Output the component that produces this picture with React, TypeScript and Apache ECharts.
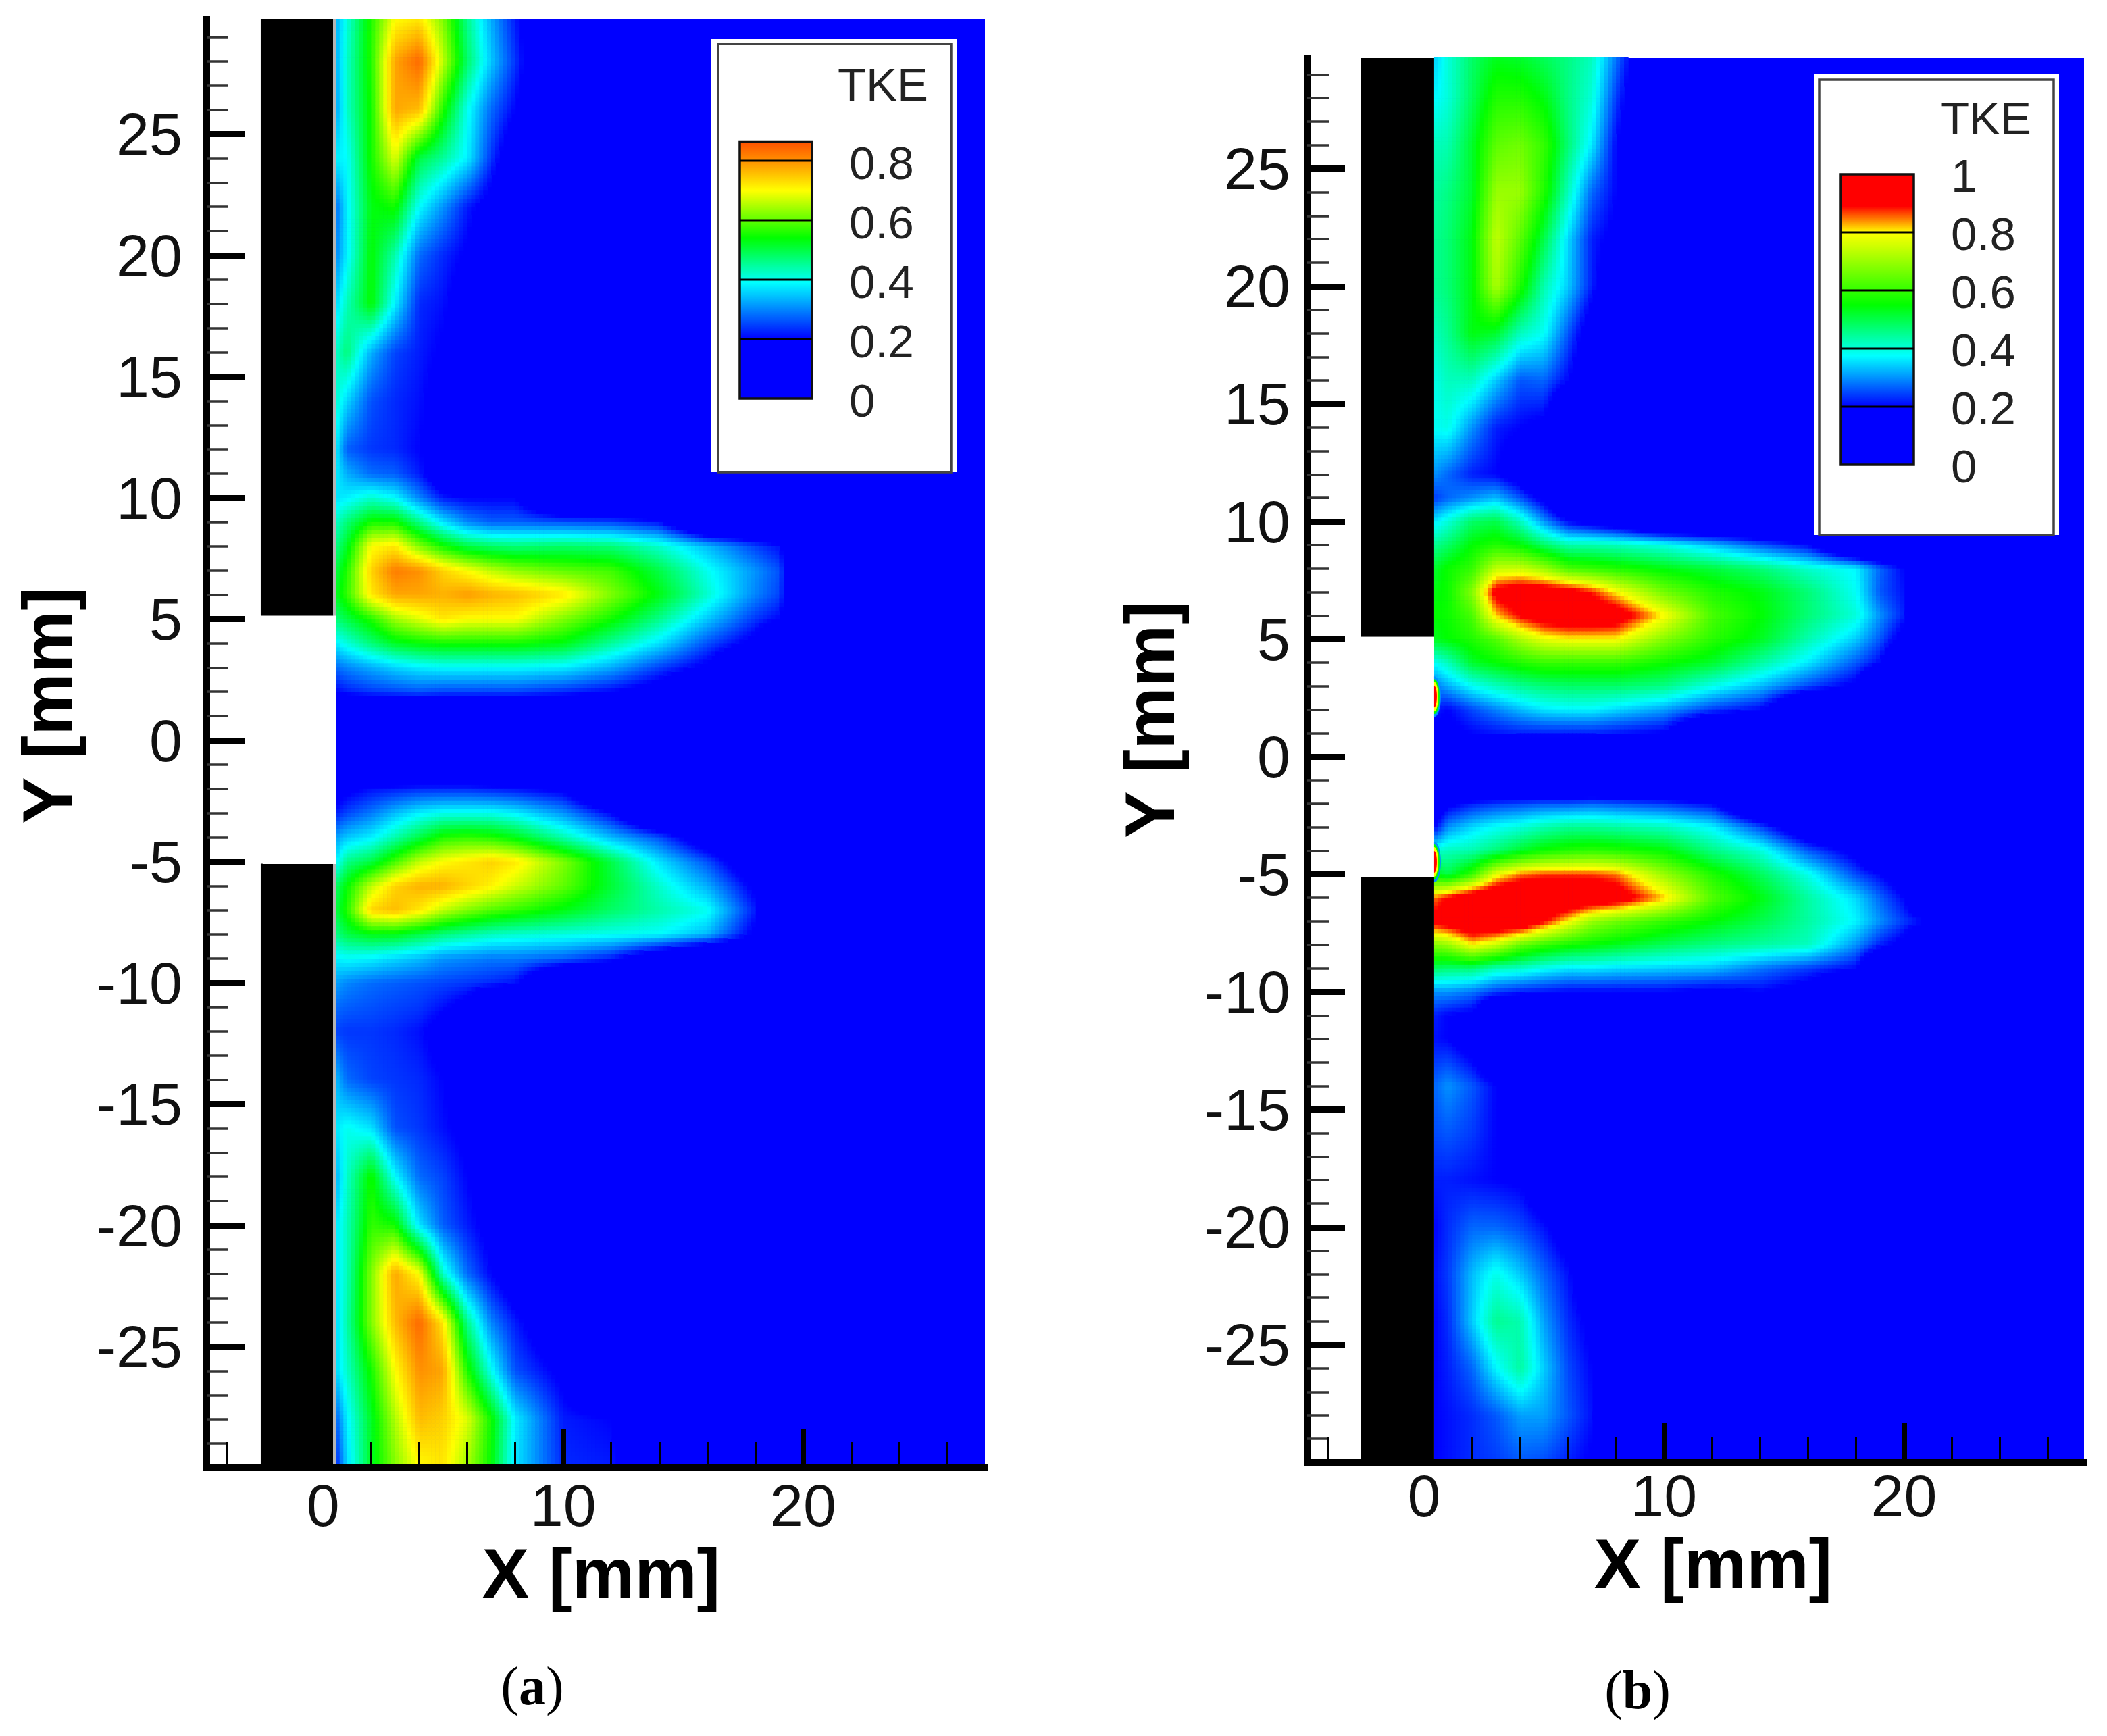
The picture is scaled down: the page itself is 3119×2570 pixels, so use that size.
import React, { useEffect, useRef } from "react";
import * as echarts from "echarts";

const FONT = "Liberation Sans";
const SERIF = "Liberation Serif";

const XS_A = [0.53, 1, 2, 3, 4, 5, 6, 7, 8, 10, 12, 14, 16, 18, 19, 20, 21];
const XS_B = [0.42, 1, 2, 3, 4, 5, 6, 7, 8, 10, 12, 14, 16, 18, 19, 20, 21];
const YS = [29.75, 28, 26, 24, 22, 20, 18, 16, 14, 12, 11, 10, 9, 8, 7, 6, 5, 4, 3, 2, 1, 0, -1, -2, -3, -4, -5, -6, -7, -8, -9, -10, -11, -12, -14, -16, -18, -20, -22, -24, -26, -28, -30];

// TKE, one row per YS entry; a short row means 0 beyond its end.
const TKE_A = [
  [.33, .41, .56, .7, .72, .62, .46, .33, .22],
  [.33, .42, .56, .78, .84, .66, .48, .35, .24],
  [.32, .42, .55, .78, .76, .56, .40, .28, .2],
  [.38, .39, .55, .68, .5, .45, .38, .24, .12],
  [.28, .38, .53, .55, .39, .31, .22, .16],
  [.30, .38, .54, .44, .28, .23, .19, .12],
  [.36, .43, .54, .38, .23, .21, .15],
  [.42, .47, .33, .25, .22, .19, .14],
  [.42, .36, .26, .23, .21, .16],
  [.38, .27, .24, .23, .2, .16],
  [.38, .33, .28, .27, .22, .12],
  [.37, .38, .42, .39, .3, .22, .2, .2, .2],
  [.42, .47, .55, .55, .46, .37, .3, .27, .27, .26, .25, .21],
  [.46, .52, .70, .72, .62, .55, .5, .48, .47, .48, .47, .42, .34, .25, .21],
  [.5, .56, .74, .82, .8, .74, .7, .66, .63, .6, .58, .5, .4, .31, .26],
  [.52, .57, .72, .78, .78, .77, .79, .77, .76, .72, .62, .53, .42, .3, .25],
  [.47, .5, .56, .64, .68, .72, .7, .7, .7, .62, .55, .46, .35, .24, .2],
  [.38, .41, .47, .52, .54, .55, .55, .55, .55, .53, .45, .37, .26, .17],
  [.28, .3, .33, .36, .38, .39, .39, .39, .39, .38, .33, .25, .18],
  [.2, .22, .24, .25, .26, .25, .25, .25, .25, .23, .2, .15],
  [],
  [],
  [],
  [.15, .18, .21, .22, .23, .23, .23, .22, .21, .18],
  [.22, .25, .29, .34, .38, .4, .4, .4, .38, .31, .2],
  [.32, .35, .38, .44, .5, .56, .57, .56, .53, .44, .34, .26, .12],
  [.38, .46, .5, .58, .66, .7, .72, .74, .72, .62, .5, .37, .26, .1],
  [.48, .54, .66, .74, .77, .77, .74, .71, .67, .6, .51, .42, .33, .18],
  [.5, .56, .74, .76, .72, .66, .62, .59, .57, .53, .48, .44, .4, .22],
  [.46, .5, .53, .53, .5, .47, .45, .43, .42, .41, .4, .39, .34, .18],
  [.38, .39, .38, .36, .34, .31, .3, .29, .29, .27, .22, .1],
  [.32, .3, .28, .27, .26, .25, .24, .23, .21],
  [.28, .27, .26, .25, .24, .21, .17],
  [.25, .24, .24, .23, .21, .16],
  [.34, .28, .25, .24, .23, .2, .14],
  [.37, .4, .37, .26, .24, .21, .18],
  [.33, .42, .55, .39, .28, .25, .2, .15],
  [.37, .43, .57, .55, .37, .27, .22, .17],
  [.37, .43, .62, .78, .7, .42, .28, .2, .13],
  [.36, .44, .62, .76, .84, .72, .46, .3, .22, .1],
  [.36, .42, .55, .7, .8, .78, .56, .4, .26, .18],
  [.27, .38, .52, .65, .76, .74, .68, .55, .38, .22, .2],
  [.22, .36, .52, .62, .7, .72, .64, .54, .37, .23, .22],
];

const TKE_B = [
  [.34, .4, .48, .53, .52, .49, .46, .42, .28],
  [.37, .4, .49, .58, .58, .54, .46, .4, .24],
  [.42, .43, .52, .64, .66, .6, .47, .36, .2],
  [.44, .46, .52, .7, .7, .58, .42, .27, .2],
  [.45, .47, .54, .74, .64, .5, .35, .22, .18, .1],
  [.45, .47, .54, .72, .58, .43, .34, .22, .12],
  [.42, .45, .54, .52, .42, .38, .26, .14],
  [.39, .42, .42, .34, .26, .27, .2, .1],
  [.38, .39, .3, .22, .2, .18],
  [.3, .27, .22, .2, .14],
  [.24, .27, .3, .33, .26, .17],
  [.36, .4, .48, .5, .42, .3, .2, .16, .12],
  [.45, .48, .55, .58, .55, .48, .43, .43, .42, .39, .33, .26, .2],
  [.52, .56, .6, .74, .75, .7, .62, .6, .58, .54, .51, .47, .41, .37, .27, .2],
  [.54, .56, .68, .92, .95, .95, .93, .88, .8, .66, .58, .54, .47, .38, .26, .21],
  [.55, .56, .62, .82, .9, .95, .97, .97, .95, .8, .62, .55, .47, .4, .3, .22],
  [.53, .55, .58, .63, .72, .78, .8, .8, .8, .68, .59, .53, .43, .34, .26, .16],
  [.38, .42, .52, .55, .58, .6, .6, .6, .6, .56, .52, .44, .36, .26, .2],
  [.28, .32, .38, .42, .45, .47, .48, .48, .48, .46, .39, .33, .25, .18],
  [.22, .2, .25, .29, .33, .36, .37, .37, .35, .31, .24, .2],
  [.18, .18, .2, .21, .22, .22, .22, .22, .21, .19],
  [],
  [],
  [.1, .18, .22, .24, .25, .26, .26, .27, .26, .24, .2],
  [.2, .3, .35, .38, .4, .43, .45, .45, .44, .42, .37, .25, .1],
  [.4, .42, .43, .47, .52, .56, .58, .59, .58, .55, .46, .4, .26, .17],
  [.54, .5, .6, .78, .85, .87, .87, .87, .85, .7, .58, .49, .39, .25, .2, .14],
  [.85, .9, .97, 1, 1, 1, 1, .98, .95, .82, .63, .54, .44, .35, .27, .2],
  [.92, .95, 1, 1, 1, .9, .8, .7, .66, .6, .55, .5, .44, .37, .3, .24, .2],
  [.68, .7, .8, .75, .65, .6, .57, .55, .53, .49, .46, .44, .42, .3, .22, .17],
  [.48, .47, .47, .42, .41, .38, .36, .36, .35, .34, .33, .28, .24, .2],
  [.3, .3, .28, .24, .22, .21, .2, .2, .2, .2, .18, .2, .16],
  [.22, .2, .18],
  [.21, .2, .15],
  [.27, .3, .26, .2, .15],
  [.25, .26, .24, .2, .15],
  [.22, .22, .21, .2, .19, .12],
  [.2, .23, .27, .27, .25, .21, .15],
  [.21, .24, .33, .39, .34, .27, .21, .12],
  [.2, .23, .34, .45, .43, .31, .23, .18],
  [.2, .22, .27, .37, .44, .34, .25, .2, .1],
  [.2, .21, .23, .26, .31, .31, .26, .21, .1],
  [.2, .21, .23, .24, .26, .25, .22, .19, .12],
];

const STOPS_A: [number, string][] = [[0, "#0000ff"], [.2, "#0000ff"], [.39, "#00ffff"], [.54, "#00ff00"], [.70, "#ffff00"], [.8, "#ff9000"], [.865, "#ff5000"], [1, "#ff0000"]];
const STOPS_B: [number, string][] = [[0, "#0000ff"], [.2, "#0000ff"], [.375, "#00ffff"], [.55, "#00ff00"], [.8, "#ffff00"], [.89, "#ff0000"], [1.05, "#ff0000"]];

const Y_MAJOR = [-25, -20, -15, -10, -5, 0, 5, 10, 15, 20, 25];
const Y_MINOR = [-29, -28, -27, -26, -24, -23, -22, -21, -19, -18, -17, -16, -14, -13, -12, -11, -9, -8, -7, -6, -4, -3, -2, -1, 1, 2, 3, 4, 6, 7, 8, 9, 11, 12, 13, 14, 16, 17, 18, 19, 21, 22, 23, 24, 26, 27, 28, 29];
const X_MAJOR = [0, 10, 20];
const X_MINOR = [-4, -2, 2, 4, 6, 8, 12, 14, 16, 18, 22, 24, 26];

const LEGEND_TICKS_A = [0, .2, .4, .6, .8];
const LEGEND_TICKS_B = [0, .2, .4, .6, .8, 1];

// x0, x1, y0, y1, colour of the wall pieces
const WALLS_A = [[-2.6, .42, 5.14, 29.75, "#000"], [-2.6, .42, -30, -5.08, "#000"], [.42, .53, 5.14, 29.75, "#b4b4b4"], [.42, .53, -30, -5.08, "#b4b4b4"]];
const WALLS_B = [[-2.62, .42, 5.1, 29.7, "#000"], [-2.62, .42, -30, -5.1, "#000"]];
const SPOTS_B = [[.42, 2.56], [.42, -4.47]];

const STEP = 6;

function hex(c: string) {
  return [parseInt(c.slice(1, 3), 16), parseInt(c.slice(3, 5), 16), parseInt(c.slice(5, 7), 16)];
}
function colorOf(stops: [number, string][], v: number) {
  if (v <= stops[0][0]) return stops[0][1];
  for (let i = 1; i < stops.length; i++) {
    if (v <= stops[i][0]) {
      const t = (v - stops[i - 1][0]) / (stops[i][0] - stops[i - 1][0]);
      const a = hex(stops[i - 1][1]);
      const b = hex(stops[i][1]);
      return `rgb(${Math.round(a[0] + (b[0] - a[0]) * t)},${Math.round(a[1] + (b[1] - a[1]) * t)},${Math.round(a[2] + (b[2] - a[2]) * t)})`;
    }
  }
  return stops[stops.length - 1][1];
}

function buildCells(xs: number[], rows: number[][]) {
  const out: number[][] = [];
  const at = (j: number, i: number) => rows[j][i] ?? 0;
  for (let j = 0; j < YS.length - 1; j++) {
    for (let i = 0; i < xs.length - 1; i++) {
      const v = [at(j, i), at(j, i + 1), at(j + 1, i), at(j + 1, i + 1)];
      if (Math.max(...v) > .2) out.push([xs[i], xs[i + 1], YS[j], YS[j + 1], ...v]);
    }
  }
  return out;
}

function fieldRender(stops: [number, string][]) {
  return (_: any, api: any) => {
    const a = api.coord([api.value(0), api.value(2)]);
    const b = api.coord([api.value(1), api.value(3)]);
    const w = b[0] - a[0];
    const h = b[1] - a[1];
    const nx = Math.max(1, Math.ceil(w / STEP));
    const ny = Math.max(1, Math.ceil(h / STEP));
    const v00 = api.value(4), v10 = api.value(5), v01 = api.value(6), v11 = api.value(7);
    const children: any[] = [];
    for (let iy = 0; iy < ny; iy++) {
      const t = (iy + .5) / ny;
      for (let ix = 0; ix < nx; ix++) {
        const u = (ix + .5) / nx;
        const v = v00 * (1 - u) * (1 - t) + v10 * u * (1 - t) + v01 * (1 - u) * t + v11 * u * t;
        if (v <= .2) continue;
        children.push({
          type: "rect",
          shape: { x: a[0] + ix * w / nx, y: a[1] + iy * h / ny, width: w / nx + .7, height: h / ny + .7 },
          style: { fill: colorOf(stops, v) },
        });
      }
    }
    return { type: "group", children };
  };
}

function rectRender(_: any, api: any) {
  const a = api.coord([api.value(0), api.value(3)]);
  const b = api.coord([api.value(1), api.value(2)]);
  return { type: "rect", shape: { x: a[0], y: a[1], width: b[0] - a[0], height: b[1] - a[1] }, style: { fill: api.value(4) } };
}

function spotRender(stops: [number, string][]) {
  return (_: any, api: any) => {
    const c = api.coord([api.value(0), api.value(1)]);
    const rings = [[.3, 10, 30], [.55, 8, 26], [.8, 6, 22], [.95, 4, 16]];
    return {
      type: "group",
      children: rings.map(([v, rx, ry]) => ({ type: "ellipse", shape: { cx: c[0], cy: c[1], rx, ry }, style: { fill: colorOf(stops, v) } })),
    };
  };
}

const axisBase = { type: "value" as const, splitLine: { show: false }, z: 10 };

function panelAxes(g: number, p: any) {
  const lineStyle = { color: "#000", width: 10, cap: "square" };
  const xAxis = [
    {
      ...axisBase, gridIndex: g, min: p.xMin, max: p.xMax, position: "bottom",
      name: "X [mm]", nameLocation: "middle", nameGap: p.xNameGap,
      nameTextStyle: { fontFamily: FONT, fontWeight: "bold", fontSize: 104, color: "#000", padding: [0, 0, 0, p.xNamePad] },
      axisLine: { show: true, onZero: false, lineStyle },
      axisTick: { show: true, inside: true, length: 58, customValues: X_MAJOR, lineStyle: { color: "#000", width: 8 } },
      axisLabel: { show: true, customValues: X_MAJOR, margin: p.xMargin, fontFamily: FONT, fontSize: 88, color: "#111" },
    },
    {
      ...axisBase, gridIndex: g, min: p.xMin, max: p.xMax, position: "bottom",
      axisLine: { show: false, onZero: false },
      axisTick: { show: true, inside: true, length: 38, customValues: X_MINOR, lineStyle: { color: "#000", width: 3 } },
      axisLabel: { show: false },
    },
  ];
  const yAxis = [
    {
      ...axisBase, gridIndex: g, min: -30, max: p.yMax, position: "left",
      name: "Y [mm]", nameLocation: "middle", nameGap: p.yNameGap, nameMoveOverlap: false,
      nameTextStyle: { fontFamily: FONT, fontWeight: "bold", fontSize: 104, color: "#000", padding: [0, 0, 0, p.yNamePad] },
      axisLine: { show: true, onZero: false, lineStyle },
      axisTick: { show: true, inside: true, length: 56, customValues: Y_MAJOR, lineStyle: { color: "#000", width: 9 } },
      axisLabel: { show: true, customValues: Y_MAJOR, margin: p.yMargin, fontFamily: FONT, fontSize: 88, color: "#111" },
    },
    {
      ...axisBase, gridIndex: g, min: -30, max: p.yMax, position: "left",
      axisLine: { show: false, onZero: false },
      axisTick: { show: true, inside: true, length: 32, customValues: Y_MINOR, lineStyle: { color: "#333", width: 3.5 } },
      axisLabel: { show: false },
    },
  ];
  return { xAxis, yAxis };
}

function legend(l: any, stops: [number, string][], ticks: number[], top: number) {
  const yOf = (v: number) => l.y0 - v * l.perUnit;
  const colorStops = [{ offset: 0, color: colorOf(stops, 0) }];
  stops.forEach(([v]) => {
    if (v > 0 && v < top) colorStops.push({ offset: v / top, color: colorOf(stops, v) });
  });
  colorStops.push({ offset: 1, color: colorOf(stops, top) });
  const els: any[] = [
    { type: "rect", shape: { x: l.outer[0], y: l.outer[1], width: l.outer[2], height: l.outer[3] }, style: { fill: "#fff" }, z: 100 },
    { type: "rect", shape: { x: l.inner[0], y: l.inner[1], width: l.inner[2], height: l.inner[3] }, style: { fill: "#fff", stroke: "#444", lineWidth: 3.5 }, z: 100 },
    { type: "text", x: l.titleX, y: l.titleY, style: { text: "TKE", fontFamily: FONT, fontSize: 69, fill: "#222", textAlign: "center", textVerticalAlign: "middle" }, z: 101 },
    {
      type: "rect", shape: { x: l.barX, y: yOf(top), width: l.barW, height: l.y0 - yOf(top) },
      style: { fill: new echarts.graphic.LinearGradient(0, 1, 0, 0, colorStops), stroke: "#111", lineWidth: 3.5 }, z: 101,
    },
  ];
  ticks.forEach((v) => {
    if (v > 0 && v < top) {
      els.push({ type: "line", shape: { x1: l.barX, y1: yOf(v), x2: l.barX + l.barW, y2: yOf(v) }, style: { stroke: "#000", lineWidth: 3 }, z: 102 });
    }
    els.push({ type: "text", x: l.labelX, y: yOf(v) + l.labelDy, style: { text: String(v), fontFamily: FONT, fontSize: 69, fill: "#222", textAlign: "left", textVerticalAlign: "middle" }, z: 102 });
  });
  return els;
}

function caption(x: number, y: number, letter: string) {
  return {
    type: "text", x, y, z: 102,
    style: {
      text: `{p|(}{l|${letter}}{p|)}`, textAlign: "center", textVerticalAlign: "middle",
      rich: {
        p: { fontFamily: SERIF, fontSize: 80, fill: "#000" },
        l: { fontFamily: SERIF, fontSize: 80, fontWeight: "bold", fill: "#000" },
      },
    },
  };
}

export default function App() {
  const ref = useRef<HTMLDivElement>(null);
  useEffect(() => {
    document.body.style.margin = "0";
    document.body.style.background = "#fff";
    const chart = echarts.init(ref.current!, undefined, { renderer: "svg", width: 3119, height: 2570 });
    const pA = { xMin: -4.85, xMax: 27.57, yMax: 29.75, xNameGap: 93, xNamePad: 16, yNameGap: 184, yNamePad: 112, xMargin: 11, yMargin: 36 };
    const pB = { xMin: -4.87, xMax: 27.5, yMax: 29.7, xNameGap: 83, xNamePad: 52, yNameGap: 181, yNamePad: 120, xMargin: 5, yMargin: 25 };
    const aA = panelAxes(0, pA);
    const aB = panelAxes(1, pB);
    const series = (g: number, xs: number[], rows: number[][], stops: [number, string][], walls: any[], xMax: number, yMax: number, spots: number[][]) => {
      const axes = { xAxisIndex: g * 2, yAxisIndex: g * 2 };
      const list: any[] = [
        { ...axes, type: "custom", silent: true, z: 1, renderItem: rectRender, data: [[xs[0], xMax, -30, yMax, "#0000ff"]] },
        { ...axes, type: "custom", silent: true, z: 2, renderItem: fieldRender(stops), data: buildCells(xs, rows), encode: { x: [0, 1], y: [2, 3] } },
      ];
      if (spots.length) list.push({ ...axes, type: "custom", silent: true, z: 3, renderItem: spotRender(stops), data: spots });
      list.push({ ...axes, type: "custom", silent: true, z: 4, renderItem: rectRender, data: walls });
      list.push({ ...axes, type: "custom", silent: true, z: 4, renderItem: rectRender, data: [[xs[0] - 3.05, xs[0], -5.1, 5.1, "#ffffff"]] });
      return list;
    };
    const option: any = {
      animation: false,
      backgroundColor: "#fff",
      grid: [
        { left: 306, top: 28, width: 1152, height: 2145, containLabel: false, outerBoundsMode: "none" },
        { left: 1935, top: 86, width: 1150, height: 2079, containLabel: false, outerBoundsMode: "none" },
      ],
      xAxis: [...aA.xAxis, ...aB.xAxis],
      yAxis: [...aA.yAxis, ...aB.yAxis],
      series: [
        ...series(0, XS_A, TKE_A, STOPS_A, WALLS_A, pA.xMax, pA.yMax, []),
        ...series(1, XS_B, TKE_B, STOPS_B, WALLS_B, pB.xMax, pB.yMax, SPOTS_B),
      ],
      graphic: {
        z: 100,
        elements: [
          ...legend({ outer: [1052, 57, 365, 642], inner: [1063, 65, 345, 634], titleX: 1307, titleY: 125, barX: 1095, barW: 107, y0: 590, perUnit: 440, labelX: 1257, labelDy: 3 }, STOPS_A, LEGEND_TICKS_A, .865),
          ...legend({ outer: [2686, 109, 362, 683], inner: [2693, 118, 347, 674], titleX: 2940, titleY: 175, barX: 2725, barW: 108, y0: 688, perUnit: 430, labelX: 2888, labelDy: 2 }, STOPS_B, LEGEND_TICKS_B, 1),
          caption(788, 2496, "a"),
          caption(2424, 2502, "b"),
        ],
      },
    };
    chart.setOption(option);
    return () => chart.dispose();
  }, []);
  return <div ref={ref} style={{ width: 3119, height: 2570 }} />;
}
